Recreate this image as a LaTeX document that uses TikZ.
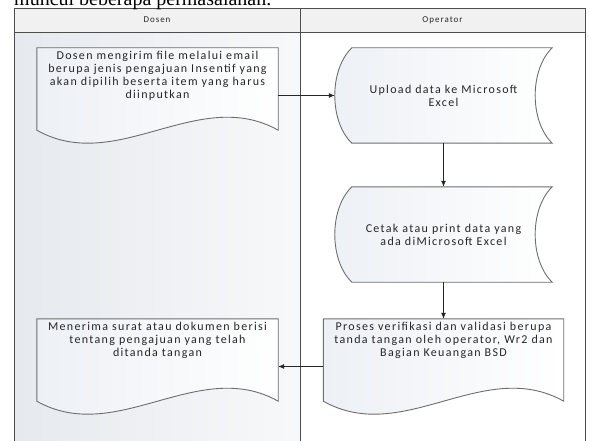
\documentclass[tikz,border=0pt]{standalone}
\usepackage{fontspec}
\setmainfont{Carlito}[LetterSpace=11]
\newfontfamily\pageserif{Liberation Serif}
\usetikzlibrary{arrows.meta,positioning,calc}
\usepackage{xcolor}
\definecolor{laneline}{HTML}{4D4D4D}
\definecolor{shapeline}{HTML}{6E6E6E}
\definecolor{txt}{HTML}{262626}
\definecolor{lanetint}{HTML}{E6E9EE}
\definecolor{headfill}{HTML}{F1F1F1}
\definecolor{shapetint}{HTML}{EDF0F5}
\pgfdeclarelayer{lanes}
\pgfdeclarelayer{shapes}
\pgfsetlayers{lanes,shapes,main}
\tikzset{
  lane/.style={draw=laneline, line width=0.9pt},
  outline/.style={draw=shapeline, line width=0.9pt, left color=shapetint, right color=white},
  docbox/.style={minimum width=239pt, minimum height=95pt, inner sep=3pt, font=\fontsize{12}{13}\selectfont, text=txt},
  storebox/.style={minimum width=217pt, minimum height=95pt, align=center, font=\fontsize{12}{13}\selectfont, text=txt},
  headtext/.style={font=\fontsize{9}{10}\selectfont, text=txt},
  arrow/.style={-{Latex[length=6pt,width=5pt]}, line width=0.8pt, draw=black!85}
}
% text that starts at the top of a document shape
\newcommand{\doctext}[2]{\parbox[c][89pt][t]{#1}{\centering #2}}
% document outline with wavy bottom
\newcommand{\docshape}[1]{%
  \begin{pgfonlayer}{shapes}
  \draw[outline] (#1.north west) -- (#1.north east) -- ($(#1.south east)+(0,-13)$)
    .. controls ($(#1.south east)+(-80,-58)$) and ($(#1.south west)+(80,32)$) .. ($(#1.south west)+(0,-13)$) -- cycle;
  \end{pgfonlayer}}
% stored data outline
\newcommand{\storedshape}[1]{%
  \begin{pgfonlayer}{shapes}
  \draw[outline] ($(#1.north west)+(17,0)$) -- (#1.north east)
    .. controls ($(#1.north east)+(-22.7,22)$) and ($(#1.south east)+(-22.7,-22)$) .. (#1.south east)
    -- ($(#1.south west)+(17,0)$)
    .. controls ($(#1.south west)+(-5.7,-22)$) and ($(#1.north west)+(-5.7,22)$) .. cycle;
  \end{pgfonlayer}}

\begin{document}
\begin{tikzpicture}[x=1pt, y=-1pt]
  \useasboundingbox (0,0) rectangle (589,441);
  \clip (0,0) rectangle (589,441);

  \node[font=\pageserif\fontsize{20}{20}\selectfont, anchor=base west, inner sep=0pt] (lead) at (14,6) {muncul beberapa permasalahan.};

  % swimlanes
  \begin{pgfonlayer}{lanes}
    \fill[left color=lanetint, right color=lanetint!30] (14,32) rectangle (300,441);
    \fill[headfill] (14,8) rectangle (585,32);
    \draw[lane] (14,441) -- (14,8) -- (585,8) -- (585,441);
    \draw[lane] (14,32) -- (585,32);
    \draw[lane] (300,8) -- (300,441);
  \end{pgfonlayer}
  \node[headtext] (hdosen) at (157,20) {Dosen};
  \node[headtext] (hoperator) at (442.5,20) {Operator};

  \node[docbox] (kirim) at (157.5,95.5) {\doctext{235pt}{Dosen mengirim file melalui email\\berupa jenis pengajuan Insentif yang\\akan dipilih beserta item yang harus\\diinputkan}};
  \node[storebox] (upload) at (443.5,95.5) {Upload data ke Microsoft\\Excel};
  \node[storebox] (cetak) at (443.5,234.5) {Cetak atau print data yang\\ada diMicrosoft Excel};
  \node[docbox, minimum width=238pt] (proses) at (443.5,366.5) {\doctext{234pt}{Proses verifikasi dan validasi berupa\\tanda tangan oleh operator, Wr2 dan\\Bagian Keuangan BSD}};
  \node[docbox] (terima) at (157.5,366.5) {\doctext{235pt}{Menerima surat atau dokumen berisi\\tentang pengajuan yang telah\\ditanda tangan}};

  \docshape{kirim}
  \storedshape{upload}
  \storedshape{cetak}
  \docshape{proses}
  \docshape{terima}

  \draw[arrow] (kirim.east) -- (upload.west);
  \draw[arrow] (upload) -- (cetak);
  \draw[arrow] (cetak) -- (proses);
  \draw[arrow] (proses.west) -- (terima.east);
\end{tikzpicture}
\end{document}
